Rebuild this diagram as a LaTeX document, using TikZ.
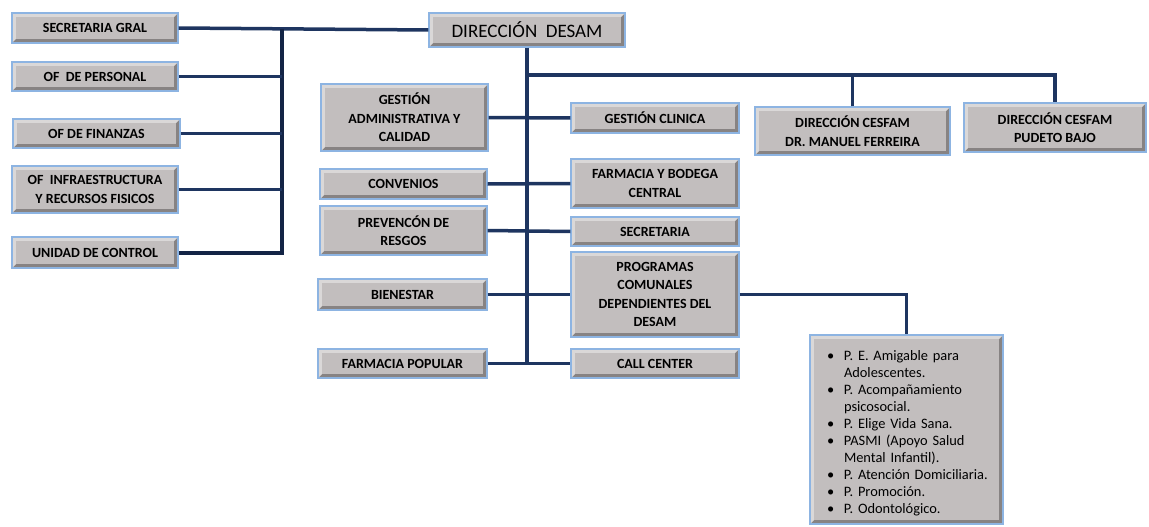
\documentclass[tikz,border=0pt]{standalone}
\usepackage{fontspec}
\setmainfont{Carlito}
\usetikzlibrary{positioning}

\definecolor{boxgray}{HTML}{C2BEBE}
\definecolor{boxdark}{HTML}{878383}
\definecolor{boxlight}{HTML}{DAD8D8}
\definecolor{boxblue}{HTML}{8DB4E2}
\definecolor{linknavy}{HTML}{1E3560}
\definecolor{linkdark}{HTML}{132445}

\newcommand{\progitem}[1]{\par\noindent\hangindent=30pt\hangafter=1\makebox[30pt][l]{\hspace{13pt}\textbullet}#1}

\tikzset{
  unit/.style={rectangle, draw=boxblue, line width=1.2pt, fill=boxgray, align=center,
    inner sep=2pt, font=\fontsize{14}{18.5}\selectfont\bfseries,
    path picture={
      \fill[boxdark] (path picture bounding box.south west) rectangle (path picture bounding box.north east);
      \fill[boxlight] (path picture bounding box.south west) -- (path picture bounding box.north west)
        -- (path picture bounding box.north east) -- ([shift={(-4pt,-4pt)}]path picture bounding box.north east)
        -- ([shift={(4pt,-4pt)}]path picture bounding box.north west) -- ([shift={(4pt,4pt)}]path picture bounding box.south west) -- cycle;
      \fill[boxgray] ([shift={(4pt,4pt)}]path picture bounding box.south west) rectangle ([shift={(-4pt,-4pt)}]path picture bounding box.north east);
    }},
  link/.style={draw=linknavy, line width=3.5pt}
}

\begin{document}
\begin{tikzpicture}[x=1pt,y=-1pt]
  \useasboundingbox (0,0) rectangle (1149,527);

  \node[unit, minimum width=196pt, minimum height=34pt, font=\fontsize{19}{22}\selectfont] (direccion) at (527,30) {DIRECCIÓN\ \ DESAM};

  \node[unit, minimum width=166pt, minimum height=30pt] (secgral) at (95,28) {SECRETARIA GRAL};
  \node[unit, minimum width=166pt, minimum height=29pt] (ofpers) at (95,76.5) {OF\ \ DE PERSONAL};
  \node[unit, minimum width=167pt, minimum height=29pt] (offin) at (96.5,133.5) {OF DE FINANZAS};
  \node[unit, minimum width=166pt, minimum height=47pt] (ofinfra) at (95,189.5) {OF\ \ INFRAESTRUCTURA\\Y RECURSOS FISICOS};
  \node[unit, minimum width=166pt, minimum height=31pt] (unidad) at (95,252.5) {UNIDAD DE CONTROL};

  \node[unit, minimum width=167pt, minimum height=67pt] (gestadm) at (404.5,117.5) {GESTIÓN\\ADMINISTRATIVA Y\\CALIDAD};
  \node[unit, minimum width=167pt, minimum height=30pt] (convenios) at (403.5,184) {CONVENIOS};
  \node[unit, minimum width=167pt, minimum height=49pt] (prevencion) at (403.5,230.5) {PREVENCÓN DE\\RESGOS};
  \node[unit, minimum width=169pt, minimum height=31pt] (bienestar) at (402.5,294.5) {BIENESTAR};
  \node[unit, minimum width=169pt, minimum height=29pt] (farmpop) at (402.5,363.5) {FARMACIA POPULAR};

  \node[unit, minimum width=168pt, minimum height=30pt] (gestclin) at (655,118) {GESTIÓN CLINICA};
  \node[unit, minimum width=168pt, minimum height=49pt] (farmbod) at (655,183.5) {FARMACIA Y BODEGA\\CENTRAL};
  \node[unit, minimum width=168pt, minimum height=29pt] (secretaria) at (655,231.5) {SECRETARIA};
  \node[unit, minimum width=168pt, minimum height=85pt] (programas) at (655,294.5) {PROGRAMAS\\COMUNALES\\DEPENDIENTES DEL\\DESAM};
  \node[unit, minimum width=168pt, minimum height=29pt] (callcenter) at (655,363.5) {CALL CENTER};

  \node[unit, minimum width=195pt, minimum height=48pt] (ferreira) at (852.5,131) {DIRECCIÓN CESFAM\\DR. MANUEL FERREIRA};
  \node[unit, minimum width=182pt, minimum height=49pt] (pudeto) at (1055,127.5) {DIRECCIÓN CESFAM\\PUDETO BAJO};

  \node[unit, text width=185pt, inner xsep=4pt, inner ysep=1pt, minimum height=189pt, align=left,
    font=\fontsize{14.4}{17}\selectfont] (lista) at (906.5,429.5) {%
    \raggedright\frenchspacing\hyphenpenalty=10000
    \progitem{P. E. Amigable para Adolescentes.}
    \progitem{P. Acompañamiento psicosocial.}
    \progitem{P. Elige Vida Sana.}
    \progitem{PASMI (Apoyo Salud Mental Infantil).}
    \progitem{P. Atención Domiciliaria.}
    \progitem{P. Promoción.}
    \progitem{P. Odontológico.}};

  \coordinate (ltop) at (282,29);
  \coordinate (rjoint) at (527,75);
  \coordinate (mbot) at (527,362);

  \draw[link] (secgral.east) -- (direccion.west);
  \draw[link, draw=linkdark, line width=4pt] (ltop) |- (unidad.east);
  \draw[link] (ofpers.east) -- (ofpers.east -| ltop);
  \draw[link] (offin.east) -- (offin.east -| ltop);
  \draw[link] (ofinfra.east) -- (ofinfra.east -| ltop);

  \draw[link] (direccion.south) -- (mbot);
  \draw[link] (rjoint) -| (pudeto.north);
  \draw[link] (ferreira.north) -- (ferreira.north |- rjoint);

  \draw[link] (gestadm.east) -- (gestclin.west);
  \draw[link] (convenios.east) -- (farmbod.west);
  \draw[link] (prevencion.east) -- (secretaria.west);
  \draw[link] (bienestar.east) -- (programas.west);
  \draw[link] (farmpop.east) -- (callcenter.west);
  \draw[link] (programas.east) -| (lista.north);
\end{tikzpicture}
\end{document}
